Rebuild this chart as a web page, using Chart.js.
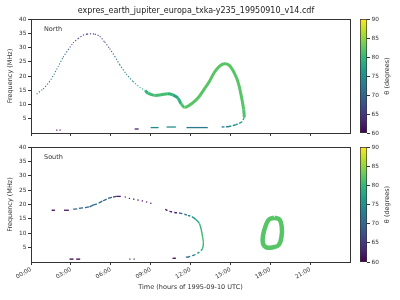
<!DOCTYPE html>
<html>
<head>
<meta charset="utf-8">
<script src="https://cdn.jsdelivr.net/npm/chart.js@4/dist/chart.umd.min.js"></script>
<style>
  html, body { margin: 0; padding: 0; background: #fff; }
  #wrap { position: relative; width: 400px; height: 300px; overflow: hidden; }
  canvas { position: absolute; }
</style>
</head>
<body>
<div id="wrap">
  <canvas id="north" width="355" height="145" style="left:0;top:0"></canvas>
  <canvas id="south" width="355" height="160" style="left:0;top:140px"></canvas>
  <canvas id="cbN" width="60" height="145" style="left:340px;top:0"></canvas>
  <canvas id="cbS" width="60" height="160" style="left:340px;top:140px"></canvas>
</div>
<script>
// expres_earth_jupiter_europa_txka-y235 -- freq vs time, coloured by theta

const TITLE = 'expres_earth_jupiter_europa_txka-y235_19950910_v14.cdf';

const hourTicks = [0, 3, 6, 9, 12, 15, 18, 21];
const hourLabels = ['00:00', '03:00', '06:00', '09:00', '12:00', '15:00', '18:00', '21:00'];
const freqTicks = [5, 10, 15, 20, 25, 30, 35, 40];
const thetaTicks = [60, 65, 70, 75, 80, 85, 90];

// ---- North hemisphere ----
const northDotTime  = [0.43, 0.92, 1.37, 1.72, 2.05, 2.42, 2.8, 3.17, 3.55, 3.92, 4.22, 4.5, 4.8, 5.17, 5.55, 5.92, 6.3, 6.67, 7.17, 7.67, 8.17, 8.6];
const northDotFreq  = [13.7, 15.5, 17.9, 20.5, 23.4, 26.6, 29.2, 31.6, 33.1, 34.3, 34.7, 34.8, 34.7, 33.9, 31.9, 29.6, 26.9, 24.0, 20.7, 18.1, 16.1, 14.9];
const northDotTheta = [70, 70, 71, 71, 72, 71, 69, 67, 66, 65, 64, 64, 64, 65, 66, 67, 69, 71, 73, 75, 77, 79];

const northBandTime  = [8.6, 8.8, 9.3, 9.8, 10.3, 10.67, 11.05, 11.3, 11.55, 11.9, 12.3, 12.67, 13.05, 13.42, 13.8, 14.17, 14.55, 14.92, 15.3, 15.6, 15.85, 16.0, 16.05];
const northBandFreq  = [14.9, 14.0, 13.2, 13.4, 13.8, 13.4, 12.3, 10.2, 9.0, 9.7, 11.1, 12.9, 15.5, 18.1, 21.3, 23.4, 24.3, 23.7, 21.0, 17.5, 12.3, 8.2, 5.5];
const northBandTheta = [79, 80, 81, 81, 81, 78, 78, 81, 82, 82, 82, 82, 82, 82, 82, 82, 82, 82, 82, 82, 82, 82, 81];

const northReturnTime  = [16.05, 15.85, 15.4, 14.9, 14.35];
const northReturnFreq  = [5.5, 3.9, 2.9, 2.3, 2.1];
const northReturnTheta = [80, 79, 76, 74, 73];

const northLowStart = [1.9, 2.15, 7.8, 9.0, 10.2, 11.7];
const northLowEnd   = [1.98, 2.23, 8.1, 9.6, 10.9, 13.3];
const northLowFreq  = [1.0, 1.0, 1.4, 1.9, 2.1, 1.9];
const northLowTheta = [60, 60, 63, 74, 75, 72];

// ---- South hemisphere ----
const southDashStart = [1.55, 2.48, 2.9, 3.4, 7.4, 7.72, 10.65, 11.65];
const southDashEnd   = [1.8, 2.85, 3.2, 3.7, 7.48, 7.8, 10.9, 11.85];
const southDashFreq  = [18.0, 18.0, 1.0, 1.0, 1.0, 1.0, 1.3, 1.7];
const southDashTheta = [60, 62, 60, 60, 60, 60, 60, 70];

const southArcTime  = [3.17, 3.55, 3.67, 4.05, 4.4, 4.67, 5.05, 5.42, 5.8, 6.17, 6.45, 6.9];
const southArcFreq  = [18.4, 18.5, 18.7, 18.9, 19.2, 19.8, 20.4, 21.3, 22.1, 22.6, 22.8, 22.8];
const southArcTheta = [70, 70, 70, 70, 70, 71, 71, 71, 70, 68, 62, 62];

const southDotTime  = [7.05, 7.2, 7.55, 7.9, 8.2, 8.55, 8.9, 9.25];
const southDotFreq  = [22.7, 22.4, 22.0, 21.7, 21.4, 21.1, 20.6, 20.0];
const southDotTheta = [60, 60, 60, 60, 60, 60, 60, 60];

const southDescTime  = [10.1, 10.43, 10.8, 11.2, 11.55, 11.8, 12.1, 12.4, 12.67, 12.8, 12.9, 12.97, 12.9, 12.67, 12.3, 11.8];
const southDescFreq  = [18.3, 17.6, 17.2, 17.0, 16.6, 16.2, 15.8, 14.8, 13.4, 11.4, 9.0, 6.7, 4.6, 3.5, 2.5, 1.7];
const southDescTheta = [62, 62, 63, 64, 72, 73, 75, 77, 79, 80, 81, 81, 79, 77, 74, 71];

const southRingTime  = [18.3, 18.7, 18.87, 18.85, 18.65, 18.2, 17.7, 17.45, 17.47, 17.65, 17.9, 18.3];
const southRingFreq  = [15.4, 14.7, 12.0, 9.0, 6.0, 5.1, 5.1, 6.5, 9.5, 12.5, 14.7, 15.4];
const southRingTheta = [82, 82, 82, 82, 82, 82, 82, 82, 82, 82, 82, 82];

// ---- colour map ----
const viridisStops = ['#440154', '#482878', '#3e4989', '#31688e', '#26828e', '#1f9e89', '#35b779', '#6ece58', '#b5de2b', '#fde725'];
const hex = s => [1, 3, 5].map(i => parseInt(s.substr(i, 2), 16));
function viridis(theta) {
  const t = Math.min(1, Math.max(0, (theta - 60) / 30)) * 9;
  const i = Math.min(8, Math.floor(t));
  const f = t - i;
  const a = hex(viridisStops[i]), b = hex(viridisStops[i + 1]);
  const c = a.map((v, k) => Math.round(v + (b[k] - v) * f));
  return `rgb(${c[0]},${c[1]},${c[2]})`;
}

const FONT = "'DejaVu Sans', sans-serif";
const INK = '#333';

function curve(time, freq, theta, style, dashFn) {
  const seg = { borderColor: c => viridis((theta[c.p0DataIndex] + theta[c.p1DataIndex]) / 2) };
  if (dashFn) seg.borderDash = dashFn;
  return Object.assign({
    data: time.map((t, i) => ({ x: t, y: freq[i] })),
    showLine: true,
    pointRadius: 0,
    tension: 0.3,
    borderColor: viridis(theta[0]),
    segment: seg
  }, style);
}

function dashes(start, end, freq, theta, width) {
  const data = [];
  start.forEach((s, i) => {
    data.push({ x: s, y: freq[i] }, { x: end[i], y: freq[i] }, { x: end[i], y: null });
  });
  return {
    data, showLine: true, pointRadius: 0, borderWidth: width, spanGaps: false, tension: 0,
    borderColor: viridis(theta[0]),
    segment: { borderColor: c => viridis(theta[Math.floor(c.p0DataIndex / 3)]) }
  };
}

// box + panel label + optional title (only used by the two panels)
const panelText = {
  id: 'panelText',
  afterDraw(chart, args, opts) {
    const { ctx, chartArea: a } = chart;
    ctx.save();
    ctx.strokeStyle = INK;
    ctx.lineWidth = 1;
    const l = Math.round(a.left) + 0.5, t = Math.round(a.top) + 0.5;
    ctx.strokeRect(l, t, Math.round(a.right) - Math.round(a.left), Math.round(a.bottom) - Math.round(a.top));
    ctx.fillStyle = INK;
    ctx.font = `6.5px ${FONT}`;
    ctx.textAlign = 'left';
    ctx.textBaseline = 'middle';
    ctx.fillText(opts.label, a.left + 13, a.top + 10);
    if (opts.title) {
      ctx.fillStyle = '#222';
      ctx.font = `8px ${FONT}`;
      ctx.textAlign = 'center';
      ctx.fillText(opts.title, 196, 11);
    }
    ctx.restore();
  }
};

function panelOptions(label, title, showX, padTop, xHeight) {
  return {
    responsive: false, animation: false, devicePixelRatio: 1, events: [],
    layout: { padding: { top: padTop, right: 5, left: 0, bottom: 0 } },
    plugins: {
      legend: { display: false },
      tooltip: { enabled: false },
      panelText: { label, title }
    },
    scales: {
      x: {
        type: 'linear', min: 0, max: 24,
        afterBuildTicks: s => { s.ticks = hourTicks.map(v => ({ value: v })); },
        afterFit: s => { s.height = xHeight; },
        ticks: {
          display: showX, autoSkip: false, minRotation: 30, maxRotation: 30, padding: 1,
          color: INK, font: { family: FONT, size: 5.8 },
          callback: (v, i) => hourLabels[i]
        },
        grid: { drawOnChartArea: false, drawTicks: true, tickLength: 3, color: INK },
        border: { color: INK, width: 1 },
        title: {
          display: showX, text: 'Time (hours of 1995-09-10 UTC)', color: INK,
          font: { family: FONT, size: 6.5 }, padding: { top: 0, bottom: 9 }
        }
      },
      y: {
        type: 'linear', min: 0, max: 40,
        afterBuildTicks: s => { s.ticks = freqTicks.map(v => ({ value: v })); },
        afterFit: s => { s.width = 31; },
        ticks: { padding: 1.5, color: INK, font: { family: FONT, size: 5.8 }, callback: v => String(v) },
        grid: { drawOnChartArea: false, drawTicks: true, tickLength: 3, color: INK },
        border: { color: INK, width: 1 },
        title: {
          display: true, text: 'Frequency (MHz)', color: INK,
          font: { family: FONT, size: 6.5 }, padding: { top: 6, bottom: 0 }
        }
      }
    }
  };
}

new Chart(document.getElementById('north'), {
  type: 'scatter',
  data: {
    datasets: [
      curve(northDotTime, northDotFreq, northDotTheta, { borderWidth: 1.1, borderDash: [1.1, 1.8] }),
      curve(northBandTime, northBandFreq, northBandTheta, { borderWidth: 3 }),
      curve(northReturnTime, northReturnFreq, northReturnTheta, { borderWidth: 1.4, borderDash: [3, 1.5] }),
      dashes(northLowStart, northLowEnd, northLowFreq, northLowTheta, 1.3)
    ]
  },
  options: panelOptions('North', TITLE, false, 19, 12),
  plugins: [panelText]
});

new Chart(document.getElementById('south'), {
  type: 'scatter',
  data: {
    datasets: [
      dashes(southDashStart, southDashEnd, southDashFreq, southDashTheta, 1.3),
      curve(southArcTime, southArcFreq, southArcTheta, { borderWidth: 1.3, borderDash: [4, 2] }),
      curve(southDotTime, southDotFreq, southDotTheta, { borderWidth: 1.2, borderDash: [1.2, 3.2] }),
      curve(southDescTime, southDescFreq, southDescTheta, { borderWidth: 1.4 },
        c => (c.p0.parsed.x > 12 && c.p0DataIndex < 12) ? [] : [2.5, 2]),
      curve(southRingTime, southRingFreq, southRingTheta, { borderWidth: 4.5, tension: 0.45 })
    ]
  },
  options: panelOptions('South', null, true, 7, 38),
  plugins: [panelText]
});

// ---- colour bars ----
const cbLabel = {
  id: 'cbLabel',
  afterDraw(chart) {
    const { ctx, chartArea: a } = chart;
    ctx.save();
    ctx.fillStyle = INK;
    ctx.font = `6.5px ${FONT}`;
    ctx.textAlign = 'center';
    ctx.textBaseline = 'middle';
    ctx.translate(a.right + 20, (a.top + a.bottom) / 2);
    ctx.rotate(-Math.PI / 2);
    ctx.fillText('θ (degrees)', 0, 0);
    ctx.restore();
  }
};

function colorbar(id, padTop, padBottom) {
  new Chart(document.getElementById(id), {
    type: 'bar',
    data: {
      labels: ['theta'],
      datasets: [{
        data: [[thetaTicks[0], thetaTicks[thetaTicks.length - 1]]],
        barPercentage: 1, categoryPercentage: 1,
        borderColor: INK, borderWidth: 1, borderSkipped: false,
        backgroundColor: c => {
          const a = c.chart.chartArea;
          if (!a) return '#000';
          const g = c.chart.ctx.createLinearGradient(0, a.bottom, 0, a.top);
          viridisStops.forEach((s, i) => g.addColorStop(i / 9, s));
          return g;
        }
      }]
    },
    options: {
      responsive: false, animation: false, devicePixelRatio: 1, events: [],
      layout: { padding: { top: padTop, bottom: padBottom, left: 20, right: 0 } },
      plugins: { legend: { display: false }, tooltip: { enabled: false } },
      scales: {
        x: { display: false },
        y: {
          position: 'right', min: 60, max: 90,
          afterBuildTicks: s => { s.ticks = thetaTicks.map(v => ({ value: v })); },
          afterFit: s => { s.width = 33; },
          ticks: { padding: 1.5, color: INK, font: { family: FONT, size: 5.8 }, callback: v => String(v) },
          grid: { drawOnChartArea: false, drawTicks: true, tickLength: 3, color: INK },
          border: { display: false }
        }
      }
    },
    plugins: [cbLabel]
  });
}

colorbar('cbN', 19, 12);
colorbar('cbS', 7, 38);
</script>
</body>
</html>
